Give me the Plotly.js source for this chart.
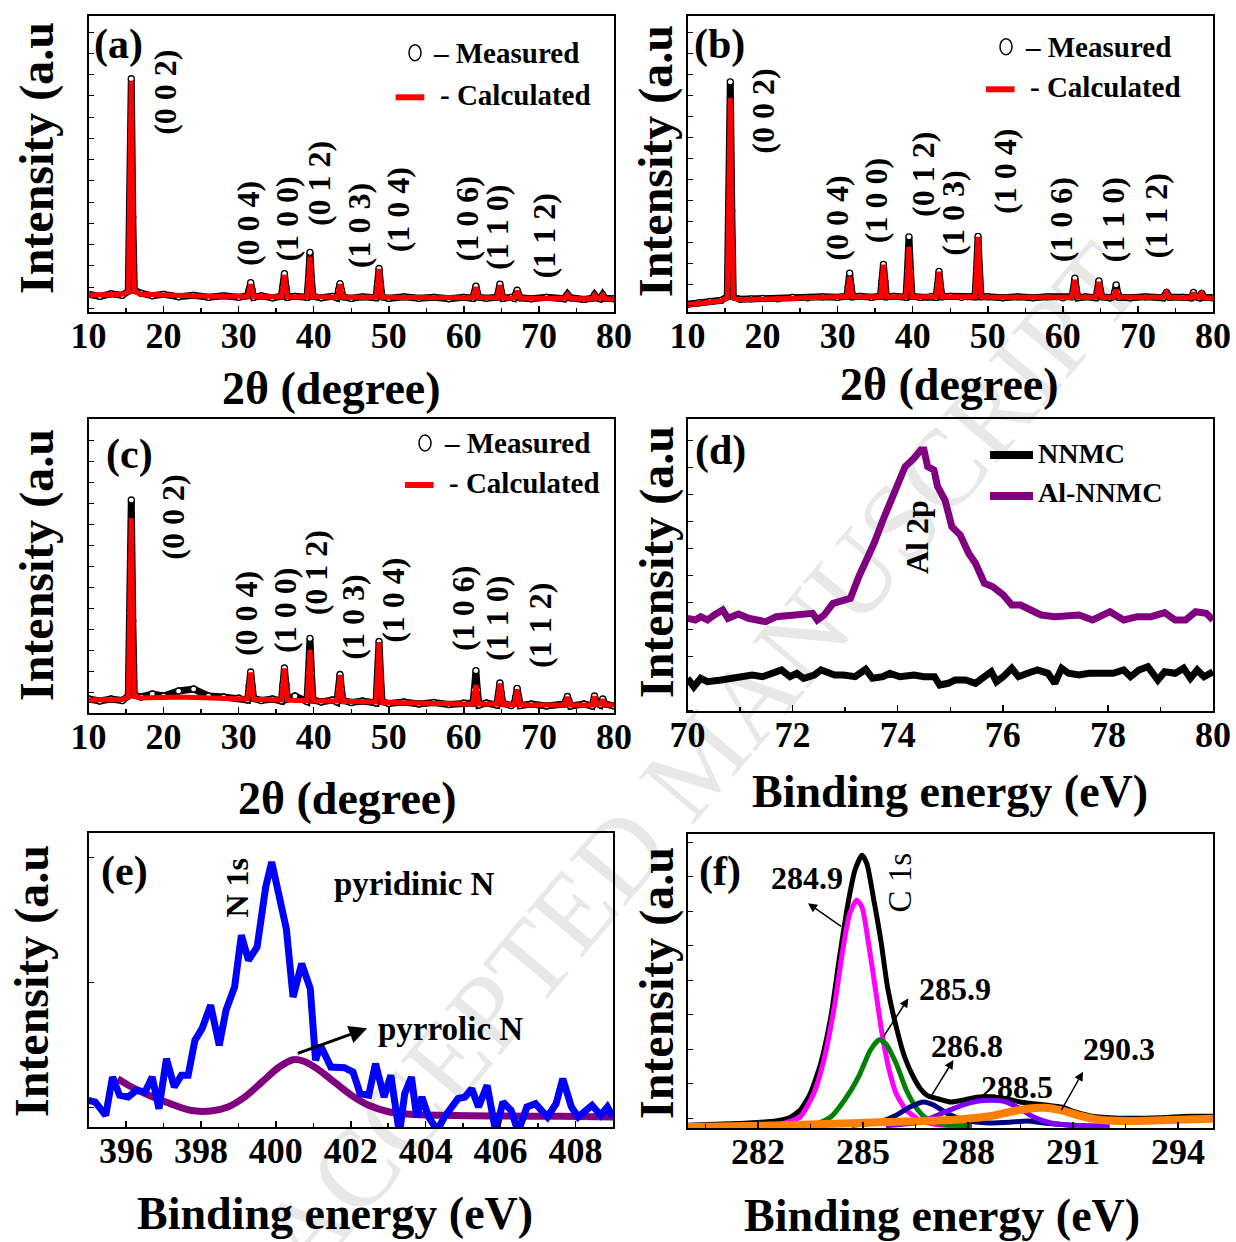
<!DOCTYPE html>
<html><head><meta charset="utf-8">
<script src="https://cdn.plot.ly/plotly-3.0.1.min.js"></script>
<style>
html,body{margin:0;padding:0;background:#fff;}
#wrap{position:relative;width:1236px;height:1242px;overflow:hidden;background:#fff;}
#wm{position:absolute;left:700px;top:760px;transform:translate(-50%,-50%) rotate(-50deg);font-family:'Liberation Serif';font-size:110px;color:#e8e8e8;white-space:nowrap;}
#plot{position:absolute;left:0;top:0;width:1236px;height:1242px;}
</style></head>
<body><div id="wrap"><div id="wm">ACCEPTED MANUSCRIPT</div><div id="plot"></div></div>
<script>
// ---------------- DATA ----------------
// XRD: 2θ (degree), shared by panels a, b, c
const twoTheta = [10,11.5,13,14.5, 15.3,15.5,15.7,15.9,16.1, 17,18.5,20,22,24,26,28,30,
  31.2,31.4,31.6,31.8,32.0, 33,34.5, 35.7,35.9,36.1,36.3,36.5, 37.5, 39.1,39.3,39.5,39.7,39.9,
  41,42.5, 43.1,43.3,43.5,43.7,43.9, 45,46.5, 48.3,48.5,48.7,48.9,49.1, 50,52,54,56,58,60,
  61.2,61.4,61.6,61.8,62.0, 63, 64.4,64.6,64.8,65.0,65.2, 66.3, 66.7,66.9,67.1,67.3,67.5,
  69,71, 73.4,73.6,73.8,74.0,74.2, 76, 77.1,77.4,77.7,78.2,78.5,78.8, 80];

const measA = [14,12,14.5,13, 17,100,227,90,18, 15,12.5,14,11.5,13,11,12.5,11,
  12.5,18,25.5,18,11, 12.5,10.5, 12,21,34.5,21,11, 12, 11,29,55.5,29,12,
  10.5,12, 10.5,18,24.5,18,11.5, 10,11.5, 10.5,24,39.5,24,11.5, 10,11.5,10,11,9.5,11,
  10,15.5,22,15.5,11, 10, 11,16.5,24,16.5,10, 11, 10,14,18,14,10.5,
  9.5,11, 9.5,12,14,12,10.5, 9, 10,13.5,10.5,9.5,13.5,10, 9.5];
const calcA = [13,13,13.5,14, 16,95,225,85,17, 14,13.5,13,12.5,12.5,12,12,12,
  12,17,24,17,12, 11.5,11.5, 11.5,20,33,20,11.5, 11.5, 11.5,27,51,27,11.5,
  11.5,11, 11,17,24,17,11, 11,11, 11,23,39,23,11, 11,10.5,10.5,10.5,10.5,10.5,
  10.5,15,21,15,10.5, 10.5, 10.5,16,23,16,10.5, 10, 10.5,13.5,17.5,13.5,10,
  10,10, 10,11.5,13.5,11.5,10, 9.5, 9.5,13,10,10,13,9.5, 9];

const measB = [1.5,3,4.5,5.5, 9,105,224,95,9, 6.5,7,7.5,7,8.5,8,9,8.5,
  9.5,19,32.7,19,9, 9.5,8.5, 9.5,24,41.5,24,9, 9.5, 8.5,35,69,35,9.5,
  8.5,9.5, 8.5,20,34.5,20,9, 9.5,8.5, 9,36,69.5,36,9, 9,8,9,8,9,8,
  9,16.5,27.7,16.5,8, 9, 8,15.5,25,15.5,9, 8, 9,13.5,21,13.5,8.5,
  8,9, 8,11,13.5,11,8.5, 8.5, 8,13.5,9,8,12.5,8.5, 8];
const calcB = [1,2.5,4,5, 8,95,208,88,8, 6,6.5,7,7.5,8,8.5,8.5,9,
  9,18,29,18,9, 9,9, 9,23,41,23,9, 9, 9,31,59,31,9,
  9,9, 9,20,34,20,9, 9,9, 9,36,69,36,9, 8.5,8.5,8.5,8.5,8.5,8.5,
  8.5,16,26,16,8.5, 8.5, 8.5,15,24,15,8.5, 8.5, 8.5,11.5,16,11.5,8.5,
  8.5,8.5, 8.5,10.5,13,10.5,8.5, 8, 8,13,9,8.5,12,8, 7.5];

const measC = [14,12,14,12.5, 17,100,213,92,18, 16,19,17,22,24,17,16,15,
  13,27,41,27,14.5, 12.5,14, 12,28,45,28,14, 17, 11.5,40,74.7,40,13,
  11,13, 11,23.5,38.5,23.5,12.5, 10.5,12, 10,38,71.5,38,11.5, 9.5,11,9,10.5,8.5,10,
  10,23,42.3,23,8, 10, 8,19,30,19,9.5, 7.5, 9.5,15.5,24.7,15.5,7.5,
  9,7, 9,12,16.5,12,7, 9, 7,17,10,8,14,9, 7];
const calcC = [13,13,13,13.5, 16,90,195,82,17, 15,15.5,16,16,15.5,15,14.5,14,
  14,26,40.5,26,13.5, 13.5,13, 13,27,44.5,27,13, 12.5, 12.5,35,63,35,12,
  12,12, 12,23,38,23,11.5, 11.5,11, 11,38,71,38,10.5, 10.5,10,10,9.5,9.5,9,
  9,17,28,17,9, 9, 9,18,29.5,18,8.5, 8.5, 8.5,14.5,23.5,14.5,8.5,
  8,8, 8,11.5,16,11.5,8, 8, 8,16.5,9,9,13.5,8, 8];

const xrdTicks = [10,20,30,40,50,60,70,80];
const hklLabels = ['(0 0 2)','(0 0 4)','(1 0 0)','(0 1 2)','(1 0 3)','(1 0 4)','(1 0 6)','(1 1 0)','(1 1 2)'];

// (d) Al 2p XPS
const nnmcE = [70.00,70.12,70.25,70.38,70.64,70.84,71.03,71.23,71.43,71.62,71.79,71.95,72.08,72.21,72.41,72.54,72.67,72.80,72.97,73.19,73.39,73.52,73.72,73.85,74.04,74.31,74.50,74.70,74.80,74.96,75.09,75.29,75.48,75.62,75.78,75.88,76.01,76.17,76.30,76.47,76.66,76.86,76.99,77.12,77.25,77.45,77.64,77.91,78.10,78.30,78.43,78.59,78.76,78.95,79.08,79.28,79.44,79.57,79.70,79.83,80.00];
const nnmcI = [31.7,23.3,31.7,28.3,30,31.7,33.3,35,33.3,37.3,40,33.3,36.7,31.7,35,40,36.7,35,35,33.3,40.7,31.7,33.3,36.7,33.3,35,33.3,33.3,25,26.7,30,30,26.7,31.7,38.3,28.3,33.3,41.7,33.3,36.7,40,36.7,26.7,41.7,36.7,35,36.7,36.7,36.7,40,33.3,40,43.3,30,38.3,36.7,41.7,31.7,40,33.3,38.3];
const alE = [70.00,70.15,70.25,70.38,70.51,70.67,70.77,70.97,71.16,71.49,71.69,71.95,72.21,72.38,72.47,72.60,72.77,72.93,73.10,73.26,73.42,73.55,73.72,73.85,74.01,74.14,74.31,74.44,74.50,74.57,74.69,74.76,74.90,75.03,75.19,75.35,75.48,75.65,75.81,76.01,76.17,76.34,76.53,76.73,76.99,77.25,77.45,77.71,78.04,78.30,78.56,78.82,79.08,79.28,79.48,79.67,79.87,80.00];
const alI = [91.7,90,93.3,90,95,100,91.7,96,91.7,88.3,93.3,95,96.7,96.7,90,95,106.7,108.3,111.7,133.3,150,166.7,190,206.7,228.3,243.3,251.7,260,260,243.3,240,223.3,210,183.3,175,156.7,146.7,126.7,123.3,115,105,105,100,95,93.3,95,95,90,98.3,90,93.3,93.3,97.3,90,90,98.3,96.7,90];

// (e) N 1s XPS
const n1sE = [395.00,395.18,395.46,395.64,395.83,396.06,396.28,396.51,396.70,396.88,
  397.08,397.29,397.48,397.66,397.84,398.03,398.26,398.49,398.67,398.90,
  399.08,399.27,399.50,399.73,399.89,400.09,400.28,400.46,400.69,400.92,
  401.06,401.19,401.47,401.83,402.06,402.25,402.48,402.66,402.89,403.07,
  403.30,403.44,403.62,403.76,403.90,404.08,404.31,404.50,404.68,404.86,
  405.05,405.23,405.41,405.64,405.87,406.06,406.28,406.47,406.70,406.93,
  407.25,407.48,407.66,407.89,408.07,408.44,408.67,408.85,409.00];
const n1sI = [26.7,25,11.7,50,31.7,30,36.7,35,50,18.3,
  68.3,40,51.7,51.7,86.7,98.3,121.7,81.7,116.7,140,
  191.7,166.7,180,240,265,231.7,198.3,130,163.3,138.3,
  66.7,81.7,60,59.3,55,33.3,31.7,63.3,30,51.7,
  -6.7,33.3,50,10,30,10,-3.3,10,20,28.3,
  30,38.3,20,41.7,-5,25,16.7,-5,20,23.3,
  10,23.3,48.3,20,10,21.7,11.7,20,10];
const pyrrolicE = [395.78,396.15,396.61,397.06,397.71,398.26,398.72,399.17,399.63,400.09,400.46,400.73,401.10,401.56,402.02,402.48,403.03,403.58,404.40,405.78,407.61,409.0];
const pyrrolicI = [48.3,40,31.7,25,16.7,16,20,30,45,60,67.3,66,58.3,45,31.7,21.7,15,12.7,11.7,11,10.7,10];

// (f) C 1s XPS
const c1sE = [280.00,280.74,281.72,282.51,282.90,283.20,283.49,283.79,284.08,284.33,284.57,284.77,284.97,285.11,285.31,285.51,285.70,285.95,286.19,286.44,286.64,286.83,287.13,287.52,287.92,288.31,288.70,289.10,289.49,289.88,290.28,290.67,291.06,291.55,292.05,292.54,293.52,294.31,295.00];
const c1sI = [2.7,3.7,5,7,10.3,17.7,34.3,64.3,111,171,224.3,257.7,272.7,264.3,227.7,187.7,141,101,71,51,39.3,32.7,29.3,26,28.3,31,31,29.3,26,24.3,22.7,21,16,11.7,10.3,9.7,10.3,11.7,11.7];
const p2849E = [281.72,282.70,283.20,283.59,283.88,284.18,284.42,284.62,284.82,284.97,285.16,285.36,285.56,285.75,285.95,286.24,286.64,287.13,288.11];
const p2849I = [2.7,4.3,11,34.3,67.7,121,177.7,214.3,227.7,221,184.3,137.7,91,57.7,34.3,17.7,7.7,3.3,2.3];
const p2859E = [283.20,283.69,284.08,284.47,284.87,285.21,285.46,285.65,285.95,286.24,286.54,286.83,287.23,288.11];
const p2859I = [2.7,4.3,11,27.7,51,77.7,88.3,84.3,64.3,37.7,19.3,9.3,4.3,2.3];
const p2868E = [284.67,285.46,285.95,286.34,286.74,287.03,287.42,287.92,288.60,289.19,289.69,290.18,291.06];
const p2868I = [2.7,6,12.7,21,26,22.7,14.3,7.7,5,5.7,7,5,2.3];
const p2885E = [285.65,286.64,287.23,287.82,288.31,288.70,289.10,289.49,289.88,290.37,291.06,292.05];
const p2885I = [2.3,6,14.3,22.7,27,27.7,26,19.3,11,5,2.7,2];
const p2903E = [280.00,281.72,283.69,285.65,287.62,288.60,289.19,289.69,290.18,290.67,291.16,291.75,292.54,293.52,295.00];
const p2903I = [1,2,3.7,6,8.3,11.7,16,19.3,20.3,17.7,12.7,8.3,7,7.7,9.3];

// ---------------- LAYOUT HELPERS ----------------
const W = 1236, H = 1242;
const FONT = 'Liberation Serif';
const fx = x => x / W, fy = y => 1 - y / H;

function txt(t, x, y, size, extra) {
  return Object.assign({text: t, xref: 'paper', yref: 'paper', x: fx(x), y: fy(y),
    xanchor: 'center', yanchor: 'middle', showarrow: false,
    font: {family: FONT, size: size, color: '#000', weight: 'bold'}}, extra || {});
}
function arrow(hx, hy, tx, ty, w) {
  return {text: '', xref: 'paper', yref: 'paper', x: fx(hx), y: fy(hy), ax: tx - hx, ay: ty - hy,
    axref: 'pixel', ayref: 'pixel', showarrow: true, arrowhead: 2, arrowsize: 1.2, arrowwidth: w,
    arrowcolor: '#000', standoff: 0, startstandoff: 0};
}
const tickFont = {family: FONT, size: 36, color: '#000', weight: 'bold'};
function xAxis(px0, px1, anchor, range, tickvals, minorDtick, minorTick0) {
  return {domain: [fx(px0), fx(px1)], anchor: anchor, range: range, showline: true, linecolor: '#000', linewidth: 2,
    mirror: true, ticks: 'inside', ticklen: 6, tickwidth: 1.5, tickcolor: '#000', showgrid: false, zeroline: false,
    tickmode: 'array', tickvals: tickvals, ticktext: tickvals.map(String), tickfont: tickFont, ticklabelstandoff: -9,
    minor: {dtick: minorDtick, tick0: minorTick0, ticks: 'inside', ticklen: 4, tickwidth: 1.5, tickcolor: '#000', showgrid: false}};
}
function yAxis(py0, py1, anchor, range, dtick, tick0) {
  return {domain: [fy(py1), fy(py0)], anchor: anchor, range: range, showline: true, linecolor: '#000', linewidth: 2,
    mirror: true, ticks: 'inside', ticklen: 5, tickwidth: 1, tickcolor: '#000', showgrid: false, zeroline: false,
    showticklabels: false, dtick: dtick, tick0: tick0};
}

// ---------------- TRACES ----------------
const traces = [];
function xrd(meas, calc, xa, ya) {
  traces.push({x: twoTheta, y: meas, xaxis: xa, yaxis: ya, mode: 'lines+markers', showlegend: false,
    line: {color: '#000', width: 7}, marker: {symbol: 'circle', size: 6, color: '#fff', line: {color: '#000', width: 1.3}}});
  traces.push({x: twoTheta, y: calc, xaxis: xa, yaxis: ya, mode: 'lines', showlegend: false,
    line: {color: '#ff0000', width: 5}});
}
xrd(measA, calcA, 'x', 'y');
xrd(measB, calcB, 'x2', 'y2');
xrd(measC, calcC, 'x3', 'y3');

traces.push({x: nnmcE, y: nnmcI, xaxis: 'x4', yaxis: 'y4', mode: 'lines', showlegend: false, line: {color: '#000', width: 7}});
traces.push({x: alE, y: alI, xaxis: 'x4', yaxis: 'y4', mode: 'lines', showlegend: false, line: {color: '#800080', width: 7}});

traces.push({x: pyrrolicE, y: pyrrolicI, xaxis: 'x5', yaxis: 'y5', mode: 'lines', showlegend: false, line: {color: '#800080', width: 7, shape: 'spline', smoothing: 0.8}});
traces.push({x: n1sE, y: n1sI, xaxis: 'x5', yaxis: 'y5', mode: 'lines', showlegend: false, line: {color: '#0000ff', width: 7}});

const fLines = [[c1sE, c1sI, '#000000', 5], [p2849E, p2849I, '#ff00ff', 5], [p2859E, p2859I, '#008000', 5],
  [p2868E, p2868I, '#000080', 5], [p2885E, p2885I, '#7f00ff', 5], [p2903E, p2903I, '#ff8000', 8]];
fLines.forEach(l => traces.push({x: l[0], y: l[1], xaxis: 'x6', yaxis: 'y6', mode: 'lines', showlegend: false,
  line: {color: l[2], width: l[3], shape: 'spline', smoothing: 0.6}}));

// ---------------- ANNOTATIONS ----------------
const ann = [];
// axis titles
[['2θ (degree)', 331, 388], ['2θ (degree)', 949, 384], ['2θ (degree)', 347, 798],
 ['Binding energy (eV)', 950, 792], ['Binding energy (eV)', 335, 1213], ['Binding energy (eV)', 942, 1215]]
 .forEach(t => ann.push(txt(t[0], t[1], t[2], 46)));
[[37, 158], [656, 161], [37, 565], [657, 562], [32, 981], [657, 983]]
 .forEach(p => ann.push(txt('Intensity (a.u', p[0], p[1], 48, {textangle: -90})));
// panel labels
[['(a)', 118, 44], ['(b)', 719, 44], ['(c)', 129, 454], ['(d)', 720, 450], ['(e)', 124, 871], ['(f)', 720, 871]]
 .forEach(t => ann.push(txt(t[0], t[1], t[2], 42)));
// hkl labels
const hklPos = [
  [[165.5,92.3],[247.8,223.3],[286.6,219],[318.8,183.3],[358.5,225.7],[398.3,210],[466.5,219],[497.7,227.3],[543.7,235.7]],
  [[763,111.7],[837.4,218.3],[875.5,200.7],[922.9,174],[953.4,213.3],[1004.2,171.7],[1061.3,220],[1112.5,220],[1155.8,215.7]],
  [[173.4,517.3],[246.1,614],[284.2,610.7],[316,573.3],[353.4,617.3],[393.1,600.7],[463,609],[497,619],[539.2,625.7]]];
hklPos.forEach(ps => ps.forEach((p, i) => ann.push(txt(hklLabels[i], p[0], p[1], 32, {textangle: -90}))));
// XRD legends
[[415, 52.7, 431, 395.6, 424.3, 97.3, 438, 95], [1006, 46.7, 1022.6, 986, 1014.6, 89.3, 1027.8, 87.3],
 [425, 443, 441.6, 405, 433.6, 485, 446.8, 483.3]].forEach(g => {
  ann.push(txt('– Measured', g[2], g[1], 29, {xanchor: 'left'}));
  ann.push(txt('- Calculated', g[6], g[7], 29, {xanchor: 'left'}));
});
// (d) legend
ann.push(txt('NNMC', 1036, 453, 28, {xanchor: 'left'}));
ann.push(txt('Al-NNMC', 1036, 492, 28, {xanchor: 'left'}));
ann.push(txt('Al 2p', 917, 537, 32, {textangle: -90}));
// (e)
ann.push(txt('N 1s', 236.6, 888, 32, {textangle: -90}));
ann.push(txt('pyridinic N', 414.5, 884, 33));
ann.push(txt('pyrrolic N', 450.5, 1029, 33));
ann.push(arrow(367.2, 1028.3, 296.3, 1054, 3));
// (f)
ann.push(txt('284.9', 807, 878, 32));
ann.push(txt('C 1s', 899, 882.5, 33, {textangle: -90, font: {family: FONT, size: 33, color: '#000', weight: 'normal'}}));
ann.push(txt('285.9', 955, 989, 32));
ann.push(txt('286.8', 967, 1046, 32));
ann.push(txt('288.5', 1016.5, 1086.7, 32));
ann.push(txt('290.3', 1119.4, 1049, 32));
ann.push(arrow(808, 903.3, 842.6, 927.3, 1.5));
ann.push(arrow(908.4, 998.3, 882.4, 1038.3, 1.5));
ann.push(arrow(953.4, 1060, 930.9, 1096.7, 1.5));
ann.push(arrow(1083, 1071.7, 1060.6, 1111.7, 1.5));

// ---------------- SHAPES (legend swatches) ----------------
const shapes = [];
[[415, 52.7, 395.6, 424.3, 97.3], [1006, 46.7, 986, 1014.6, 89.3], [425, 443, 405, 433.6, 485]].forEach(g => {
  shapes.push({type: 'circle', xref: 'paper', yref: 'paper', x0: fx(g[0] - 6), x1: fx(g[0] + 6), y0: fy(g[1] + 8), y1: fy(g[1] - 8),
    line: {color: '#000', width: 1.5}, fillcolor: '#fff'});
  shapes.push({type: 'line', xref: 'paper', yref: 'paper', x0: fx(g[2]), x1: fx(g[3]), y0: fy(g[4]), y1: fy(g[4]),
    line: {color: '#ff0000', width: 6}});
});
shapes.push({type: 'line', xref: 'paper', yref: 'paper', x0: fx(990), x1: fx(1033), y0: fy(455), y1: fy(455), line: {color: '#000', width: 8}});
shapes.push({type: 'line', xref: 'paper', yref: 'paper', x0: fx(990), x1: fx(1033), y0: fy(496), y1: fy(496), line: {color: '#800080', width: 8}});

// ---------------- LAYOUT ----------------
const layout = {
  width: W, height: H, margin: {l: 0, r: 0, t: 0, b: 0},
  paper_bgcolor: 'rgba(0,0,0,0)', plot_bgcolor: 'rgba(0,0,0,0)',
  showlegend: false, font: {family: FONT, color: '#000'},
  xaxis:  xAxis(88.5, 614, 'y',  [10, 80], xrdTicks, 5, 10),
  yaxis:  yAxis(16, 311.5, 'x',  [-3, 289], 21, 0),
  xaxis2: xAxis(687.5, 1213, 'y2', [10, 80], xrdTicks, 5, 10),
  yaxis2: yAxis(16, 311.5, 'x2', [-5.7, 290], 21, 0),
  xaxis3: xAxis(88.5, 614, 'y3', [10, 80], xrdTicks, 5, 10),
  yaxis3: yAxis(419, 713, 'x3', [0, 294], 21, 0),
  xaxis4: xAxis(687.5, 1213, 'y4', [70, 80], [70,72,74,76,78,80], 1, 70),
  yaxis4: yAxis(419, 711, 'x4', [-1, 291], 27, 0),
  xaxis5: xAxis(88.5, 613, 'y5', [395, 409], [396,398,400,402,404,406,408], 1, 395),
  yaxis5: yAxis(833, 1127, 'x5', [0, 294], 125, 20),
  xaxis6: xAxis(688, 1213, 'y6', [280, 295], [282,285,288,291,294], 1.5, 282),
  yaxis6: yAxis(834, 1128, 'x6', [0, 294], 34.5, 10),
  annotations: ann, shapes: shapes
};

Plotly.newPlot('plot', traces, layout, {staticPlot: true, displayModeBar: false});
</script></body></html>
